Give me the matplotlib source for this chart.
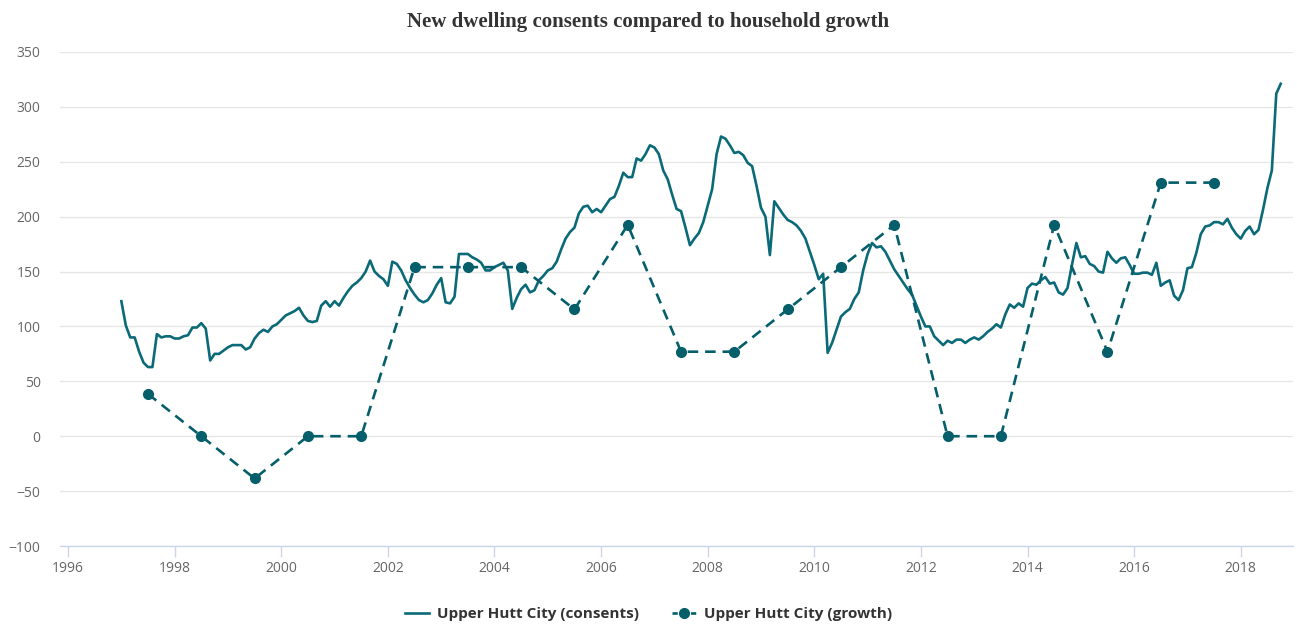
import numpy as np
import matplotlib.pyplot as plt
from matplotlib.lines import Line2D

# monthly consents (rolling), Jan 1997 .. Oct 2018
consents = [
    123, 101, 90, 90, 77, 67, 63, 63, 93, 90, 91, 91,            # 1997
    89, 89, 91, 92, 99, 99, 103, 98, 69, 75, 75, 78,             # 1998
    81, 83, 83, 83, 79, 81, 89, 94, 97, 95, 100, 102,            # 1999
    106, 110, 112, 114, 117, 110, 105, 104, 105, 119, 123, 118,  # 2000
    123, 119, 126, 132, 137, 140, 144, 150, 160, 150, 146, 143,  # 2001
    137, 159, 157, 151, 142, 135, 129, 124, 122, 124, 130, 138,  # 2002
    144, 122, 121, 127, 166, 166, 166, 163, 161, 158, 151, 151,  # 2003
    154, 156, 158, 151, 116, 126, 134, 138, 131, 133, 142, 146,  # 2004
    151, 153, 159, 170, 180, 186, 190, 203, 209, 210, 204, 207,  # 2005
    204, 210, 216, 218, 228, 240, 236, 236, 253, 251, 257, 265,  # 2006
    263, 257, 242, 234, 220, 207, 205, 190, 174, 180, 185, 195,  # 2007
    210, 225, 257, 273, 271, 265, 258, 259, 256, 249, 246, 228,  # 2008
    208, 200, 165, 214, 208, 202, 197, 195, 192, 187, 180, 168,  # 2009
    156, 143, 148, 76, 85, 97, 109, 113, 116, 125, 131, 151,     # 2010
    166, 176, 172, 173, 168, 160, 152, 146, 140, 134, 129, 119,  # 2011
    109, 100, 100, 91, 87, 83, 87, 85, 88, 88, 85, 88,           # 2012
    90, 88, 91, 95, 98, 102, 99, 111, 120, 117, 121, 118,        # 2013
    135, 139, 138, 142, 145, 139, 140, 131, 129, 135, 156, 176,  # 2014
    163, 164, 157, 155, 150, 149, 168, 162, 158, 162, 163, 156,  # 2015
    148, 148, 149, 149, 147, 158, 137, 140, 142, 128, 124, 133,  # 2016
    153, 154, 167, 184, 191, 192, 195, 195, 193, 198, 190, 184,  # 2017
    180, 187, 191, 184, 188, 206, 226, 242, 312, 321,            # 2018
]
consent_x = 1997 + np.arange(len(consents)) / 12

growth_years = [1997.5, 1998.5, 1999.5, 2000.5, 2001.5, 2002.5, 2003.5,
                2004.5, 2005.5, 2006.5, 2007.5, 2008.5, 2009.5, 2010.5,
                2011.5, 2012.5, 2013.5, 2014.5, 2015.5, 2016.5, 2017.5]
growth = [38.5, 0, -38.5, 0, 0, 154, 154, 154, 115.5, 192.5, 77, 77,
          115.5, 154, 192.5, 0, 0, 192.5, 77, 231, 231]

x_ticks = list(range(1996, 2019, 2))
y_ticks = list(range(-100, 351, 50))

line_col = '#0b6a78'
dot_col = '#055f6b'
axis_col = '#ccd6eb'
label_col = '#666666'

fig = plt.figure(figsize=(12.97, 6.24), dpi=100)
ax = fig.add_axes([0.0463, 0.125, 0.9506, 0.7917])

ax.plot(consent_x, consents, color=line_col, lw=1.9, solid_joinstyle='round')
ax.plot(growth_years, growth, color=dot_col, lw=1.9, ls=(0, (4, 2.6)),
        marker='o', ms=7, mec=dot_col, mfc=dot_col)

ax.set_xlim(1995.85, 2018.98)
ax.set_ylim(-100, 350)
ax.set_xticks(x_ticks)
ax.set_yticks(y_ticks)
ax.set_xticklabels([str(t) for t in x_ticks])
ax.set_yticklabels(['\u2212100' if t == -100 else ('\u221250' if t == -50 else str(t)) for t in y_ticks])

ax.grid(axis='y', color='#e6e6e6', lw=1)
ax.set_axisbelow(True)
for s in ['top', 'right', 'left']:
    ax.spines[s].set_visible(False)
ax.spines['bottom'].set_color(axis_col)
ax.spines['bottom'].set_linewidth(1)

ax.tick_params(axis='x', colors=axis_col, length=8, width=1, pad=3,
               labelcolor=label_col, labelsize=10)
ax.tick_params(axis='y', length=0, pad=14, labelcolor=label_col, labelsize=10)
for lab in ax.get_xticklabels() + ax.get_yticklabels():
    lab.set_family('Open Sans')

fig.text(0.5, 0.965, 'New dwelling consents compared to household growth',
         ha='center', va='center', family='Liberation Serif',
         fontweight='bold', fontsize=15, color='#333333')

handles = [
    Line2D([], [], color=line_col, lw=1.9),
    Line2D([], [], color=dot_col, lw=1.9, ls=(0, (2, 1.5)), marker='o', ms=7),
]
fig.legend(handles, ['Upper Hutt City (consents)', 'Upper Hutt City (growth)'],
           loc='center', bbox_to_anchor=(0.5, 0.016), ncol=2, frameon=False,
           handlelength=1.6, columnspacing=2.2, handletextpad=0.5,
           prop={'family': 'Open Sans', 'weight': 'bold', 'size': 11},
           labelcolor='#333333')

fig.savefig('out.png', dpi=100)
